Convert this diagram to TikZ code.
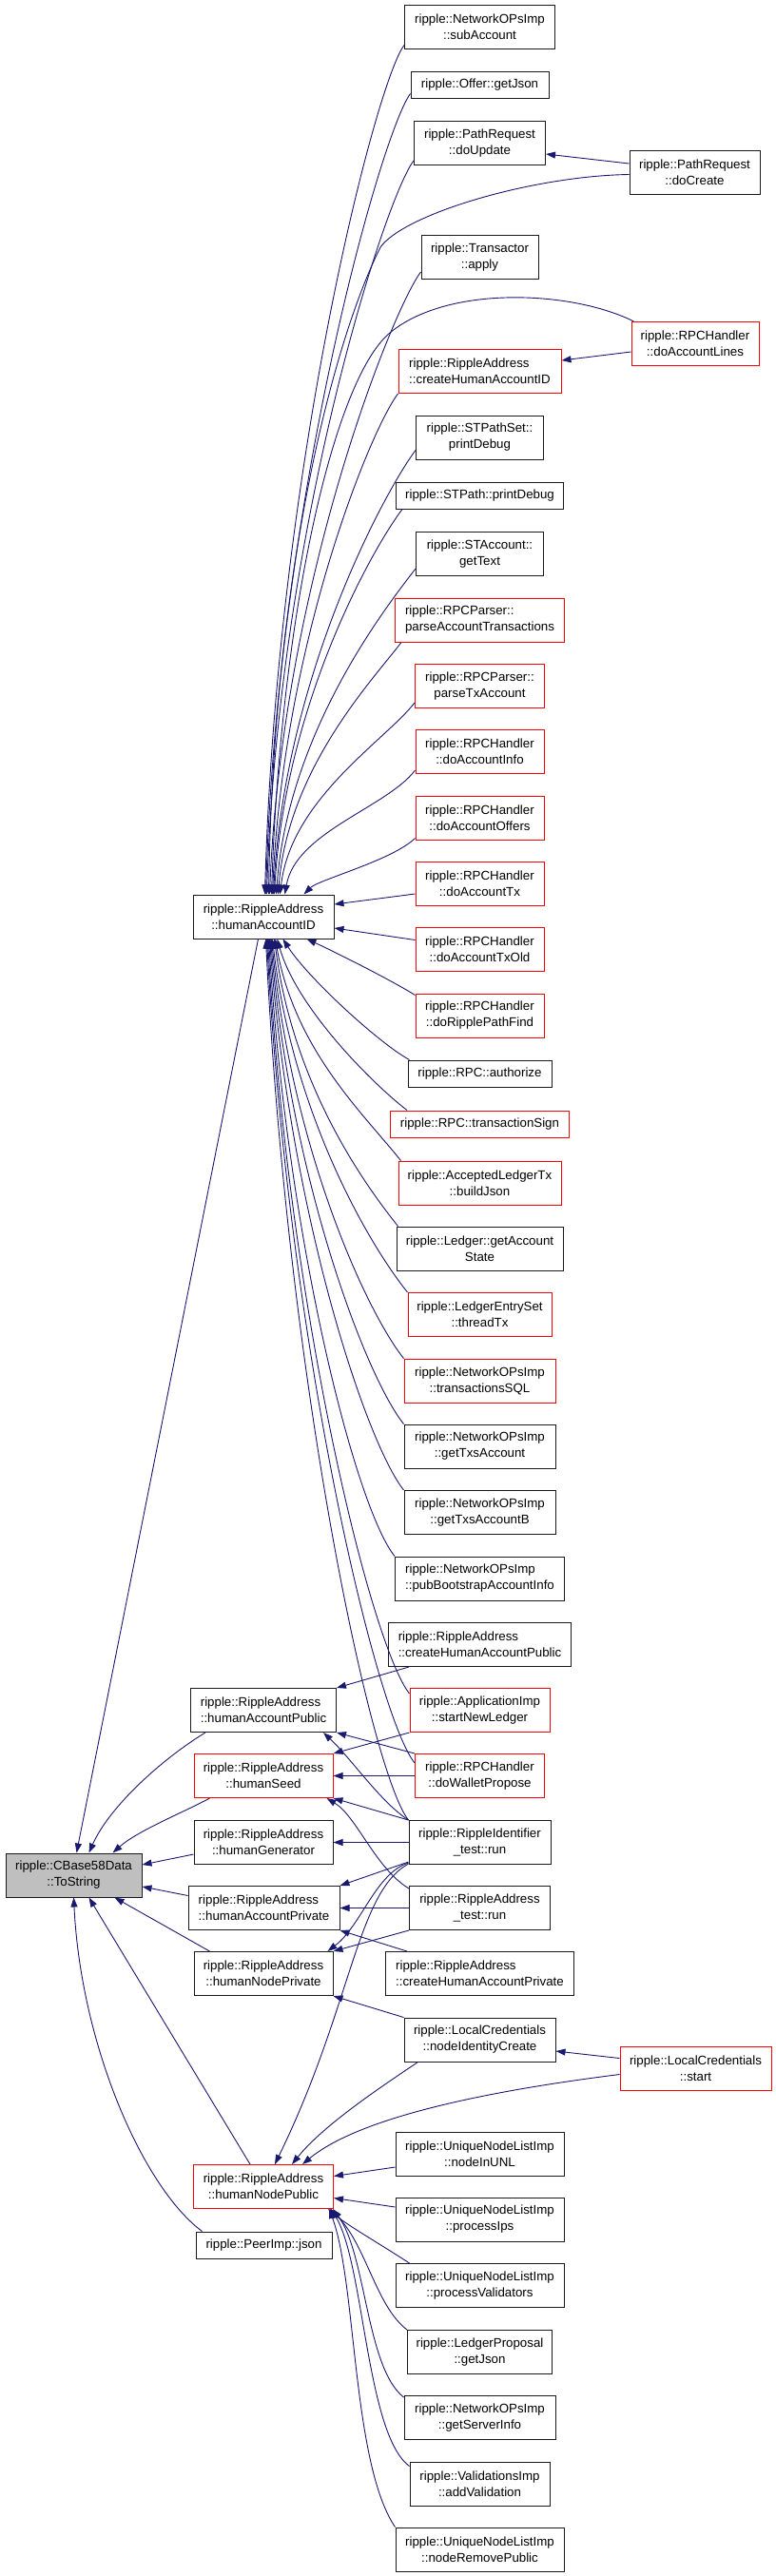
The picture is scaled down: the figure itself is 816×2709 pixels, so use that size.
\documentclass[tikz,border=0pt]{standalone}
\usepackage{fontspec}
\setmainfont{Liberation Sans}
\usetikzlibrary{arrows.meta}
\definecolor{edgeblue}{HTML}{191970}
\definecolor{nodered}{HTML}{FF0000}
\definecolor{focusgray}{HTML}{BFBFBF}
\definecolor{boxline}{HTML}{1A1A1A}
\tikzset{
  fn/.style={draw=boxline, line width=1pt, inner sep=0pt, minimum height=46pt, align=center, fill=white, font=\fontsize{13.3}{17}\selectfont},
  fn1/.style={fn, minimum height=28pt},
  hot/.style={draw=nodered},
  call/.style={draw=edgeblue, line width=0.9pt, arrows={Triangle[length=10pt,width=7pt]-}},
}
\begin{document}
\begin{tikzpicture}[x=1pt,y=-1pt]
\fill[white] (0,0) rectangle (816,2709);
\useasboundingbox (0,0) rectangle (816,2709);

% column 3 and 4
\node[fn,minimum width=158pt] (subAcc) at (504.5,28) {ripple::NetworkOPsImp\\::subAccount};
\node[fn1,minimum width=145pt] (offerJson) at (504.5,89) {ripple::Offer::getJson};
\node[fn,minimum width=138pt] (doUpdate) at (504.5,150.5) {ripple::PathRequest\\::doUpdate};
\node[fn,minimum width=137pt] (doCreate) at (730.5,181.5) {ripple::PathRequest\\::doCreate};
\node[fn,minimum width=123pt] (txApply) at (504.5,270.5) {ripple::Transactor\\::apply};
\node[fn,hot,minimum width=134pt] (doAcctLines) at (731,361.5) {ripple::RPCHandler\\::doAccountLines};
\node[fn,hot,align=left,minimum width=171pt] (createHAID) at (504.5,390.5) {ripple::RippleAddress\\::createHumanAccountID};
\node[fn,minimum width=134pt] (pathSetDbg) at (504.5,460) {ripple::STPathSet::\\printDebug};
\node[fn1,minimum width=176pt] (pathDbg) at (504.5,521) {ripple::STPath::printDebug};
\node[fn,minimum width=134pt] (acctText) at (504.5,582.5) {ripple::STAccount::\\getText};
\node[fn,hot,align=left,minimum width=178pt] (parseAT) at (504.5,652) {ripple::RPCParser::\\parseAccountTransactions};
\node[fn,hot,minimum width=136pt] (parseTxA) at (504.5,721.5) {ripple::RPCParser::\\parseTxAccount};
\node[fn,hot,minimum width=135pt] (doAInfo) at (504.5,790.5) {ripple::RPCHandler\\::doAccountInfo};
\node[fn,hot,minimum width=135pt] (doAOffers) at (504.5,860) {ripple::RPCHandler\\::doAccountOffers};
\node[fn,hot,minimum width=135pt] (doATx) at (504.5,929) {ripple::RPCHandler\\::doAccountTx};
\node[fn,hot,minimum width=135pt] (doATxOld) at (504.5,998.5) {ripple::RPCHandler\\::doAccountTxOld};
\node[fn,hot,minimum width=135pt] (doRPF) at (504.5,1068) {ripple::RPCHandler\\::doRipplePathFind};
\node[fn1,minimum width=151pt] (authorize) at (504.5,1129) {ripple::RPC::authorize};
\node[fn1,hot,minimum width=188pt] (txSign) at (504.5,1182) {ripple::RPC::transactionSign};
\node[fn,hot,minimum width=171pt] (buildJson) at (504.5,1244) {ripple::AcceptedLedgerTx\\::buildJson};
\node[fn,minimum width=175pt] (getAcctState) at (504.5,1313) {ripple::Ledger::getAccount\\State};
\node[fn,hot,minimum width=151pt] (threadTx) at (504.5,1382.5) {ripple::LedgerEntrySet\\::threadTx};
\node[fn,hot,minimum width=159pt] (txSQL) at (504.5,1452) {ripple::NetworkOPsImp\\::transactionsSQL};
\node[fn,minimum width=159pt] (getTxsA) at (504.5,1521) {ripple::NetworkOPsImp\\::getTxsAccount};
\node[fn,minimum width=159pt] (getTxsAB) at (504.5,1590.5) {ripple::NetworkOPsImp\\::getTxsAccountB};
\node[fn,align=left,minimum width=178pt] (pubBoot) at (504.5,1660) {ripple::NetworkOPsImp\\::pubBootstrapAccountInfo};
\node[fn,align=left,minimum width=192pt] (createHAPub) at (504.5,1729.5) {ripple::RippleAddress\\::createHumanAccountPublic};
\node[fn,hot,minimum width=147pt] (startNL) at (504.5,1798.5) {ripple::ApplicationImp\\::startNewLedger};
\node[fn,hot,minimum width=136pt] (doWP) at (504.5,1867.5) {ripple::RPCHandler\\::doWalletPropose};
\node[fn,minimum width=149pt] (riTest) at (504.5,1937.5) {ripple::RippleIdentifier\\\_test::run};
\node[fn,minimum width=148pt] (raTest) at (504.5,2006.5) {ripple::RippleAddress\\\_test::run};
\node[fn,align=left,minimum width=198pt] (createHAPriv) at (504.5,2075.5) {ripple::RippleAddress\\::createHumanAccountPrivate};
\node[fn,minimum width=159pt] (nodeIdC) at (504.5,2145) {ripple::LocalCredentials\\::nodeIdentityCreate};
\node[fn,hot,minimum width=159pt] (lcStart) at (731.5,2175.5) {ripple::LocalCredentials\\::start};
\node[fn,minimum width=177pt] (nodeInUNL) at (504.5,2265) {ripple::UniqueNodeListImp\\::nodeInUNL};
\node[fn,minimum width=177pt] (processIps) at (504.5,2334) {ripple::UniqueNodeListImp\\::processIps};
\node[fn,minimum width=177pt] (processVal) at (504.5,2403.5) {ripple::UniqueNodeListImp\\::processValidators};
\node[fn,minimum width=152pt] (lpJson) at (504.5,2473.5) {ripple::LedgerProposal\\::getJson};
\node[fn,minimum width=159pt] (serverInfo) at (504.5,2542.5) {ripple::NetworkOPsImp\\::getServerInfo};
\node[fn,minimum width=147pt] (addVal) at (504.5,2612) {ripple::ValidationsImp\\::addValidation};
\node[fn,minimum width=177pt] (nodeRemPub) at (504.5,2681) {ripple::UniqueNodeListImp\\::nodeRemovePublic};

% column 2
\node[fn,minimum width=148pt] (hAID) at (277,964) {ripple::RippleAddress\\::humanAccountID};
\node[fn,align=left,minimum width=153pt] (hAPub) at (277,1798.5) {ripple::RippleAddress\\::humanAccountPublic};
\node[fn,hot,minimum width=146pt] (hSeed) at (277,1867.5) {ripple::RippleAddress\\::humanSeed};
\node[fn,minimum width=146pt] (hGen) at (277,1937.5) {ripple::RippleAddress\\::humanGenerator};
\node[fn,align=left,minimum width=159pt] (hAPriv) at (277.5,2006.5) {ripple::RippleAddress\\::humanAccountPrivate};
\node[fn,minimum width=146pt] (hNPriv) at (277,2075.5) {ripple::RippleAddress\\::humanNodePrivate};
\node[fn,hot,minimum width=147pt] (hNPub) at (277,2299.5) {ripple::RippleAddress\\::humanNodePublic};
\node[fn1,minimum width=143pt] (peerJson) at (277.5,2361) {ripple::PeerImp::json};

% column 1
\node[fn,fill=focusgray,minimum width=143pt] (toString) at (77.5,1972) {ripple::CBase58Data\\::ToString};

% callers of humanAccountID (above)
\draw[call] ([xshift=76pt]hAID.north west) .. controls (291,494) and (395,87) .. ([yshift=4pt]subAcc.south west);
\draw[call] ([xshift=77pt]hAID.north west) .. controls (292,520) and (402,138) .. ([yshift=5pt]offerJson.south west);
\draw[call] ([xshift=78pt]hAID.north west) .. controls (293,555) and (405,208) .. ([yshift=5pt]doUpdate.south west);
\draw[call] ([xshift=80pt]hAID.north west) .. controls (288,600) and (350,360) .. (400,260) .. controls (425,225) and (560,185) .. ([yshift=-2pt]doCreate.west);
\draw[call] ([xshift=81pt]hAID.north west) .. controls (297,613) and (413,325) .. ([yshift=8pt]txApply.south west);
\draw[call] ([xshift=83pt]hAID.north west) .. controls (295,650) and (350,400) .. (410,350) .. controls (470,300) and (600,305) .. ([xshift=3pt]doAcctLines.north west);
\draw[call] ([xshift=84pt]hAID.north west) .. controls (298,677) and (389,453) .. (createHAID.south west);
\draw[call] ([xshift=85pt]hAID.north west) .. controls (300,707) and (407,513) .. ([yshift=10pt]pathSetDbg.south west);
\draw[call] ([xshift=86pt]hAID.north west) .. controls (300,738) and (393,575) .. ([xshift=7pt]pathDbg.south west);
\draw[call] ([xshift=88pt]hAID.north west) .. controls (303,769) and (407,637) .. ([yshift=8pt]acctText.south west);
\draw[call] ([xshift=90pt]hAID.north west) .. controls (303,808) and (392,715) .. ([xshift=7pt]parseAT.south west);
\draw[call] ([xshift=92pt]hAID.north west) .. controls (306,840) and (406,778) .. ([yshift=6pt]parseTxA.south west);
\draw[call] ([xshift=97pt]hAID.north west) .. controls (311,875) and (407,849) .. ([yshift=4pt]doAInfo.south west);
\draw[call] ([xshift=117pt]hAID.north west) .. controls (335,925) and (412,905) .. ([yshift=2pt]doAOffers.south west);
\draw[call] ([yshift=13pt]hAID.east) -- ([yshift=-11pt]doATx.west);
\draw[call] ([yshift=-12pt]hAID.east) -- ([yshift=10pt]doATxOld.west);
% callers of humanAccountID (below)
\draw[call] ([xshift=120pt]hAID.south west) .. controls (350,1000) and (410,1030) .. ([yshift=-2pt]doRPF.north west);
\draw[call] ([xshift=95pt]hAID.south west) .. controls (325,1030) and (400,1098) .. ([xshift=2pt]authorize.north west);
\draw[call] ([xshift=89pt]hAID.south west) .. controls (312,1060) and (392,1140) .. ([xshift=18pt]txSign.north west);
\draw[call] ([xshift=87pt]hAID.south west) .. controls (310,1104) and (382,1171) .. ([xshift=3pt]buildJson.north west);
\draw[call] ([xshift=86pt]hAID.south west) .. controls (308,1138) and (379,1240) .. ([xshift=2pt]getAcctState.north west);
\draw[call] ([xshift=84pt]hAID.south west) .. controls (308,1173) and (389,1310) .. (threadTx.north west);
\draw[call] ([xshift=83pt]hAID.south west) .. controls (307,1208) and (385,1379) .. (txSQL.north west);
\draw[call] ([xshift=82pt]hAID.south west) .. controls (306,1242) and (385,1448) .. (getTxsA.north west);
\draw[call] ([xshift=81pt]hAID.south west) .. controls (305,1277) and (385,1517) .. (getTxsAB.north west);
\draw[call] ([xshift=80pt]hAID.south west) .. controls (303,1312) and (375,1587) .. (pubBoot.north west);
\draw[call] ([xshift=79pt]hAID.south west) .. controls (304,1384) and (391,1731) .. ([yshift=-6pt]startNL.north west);
\draw[call] ([xshift=78pt]hAID.south west) .. controls (304,1421) and (396,1804) .. ([yshift=-10pt]doWP.north west);
\draw[call] ([xshift=77pt]hAID.south west) .. controls (302,1451) and (390,1864) .. (riTest.north west);

% side edges
\draw[call] ([yshift=-11.5pt]doUpdate.east) -- ([yshift=9.5pt]doCreate.west);
\draw[call] ([yshift=11.5pt]createHAID.east) -- ([yshift=-8.5pt]doAcctLines.west);

% callers of ToString
\draw[call] ([xshift=75pt]toString.north west) -- ([xshift=69pt]hAID.south west);
\draw[call] ([xshift=88pt]toString.north west) .. controls (115,1900) and (170,1850) .. ([xshift=16pt]hAPub.south west);
\draw[call] ([xshift=113pt]toString.north west) .. controls (145,1925) and (195,1905) .. ([xshift=17pt]hSeed.south west);
\draw[call] ([yshift=11pt]toString.east) -- ([yshift=-12.5pt]hGen.west);
\draw[call] ([yshift=-12pt]toString.east) -- ([yshift=13pt]hAPriv.west);
\draw[call] ([xshift=115pt]toString.south west) -- ([xshift=17pt]hNPriv.north west);
\draw[call] ([xshift=88pt]toString.south west) -- ([xshift=60pt]hNPub.north west);
\draw[call] ([xshift=72pt]toString.south west) .. controls (85,2150) and (150,2300) .. ([xshift=7pt]peerJson.north west);

% column 2 callers
\draw[call] (hAPub.north east) -- ([xshift=22pt]createHAPub.south west);
\draw[call] (hAPub.south east) -- (doWP.north west);
\draw[call] ([xshift=-14pt]hAPub.south east) .. controls (370,1850) and (400,1895) .. (riTest.north west);
\draw[call] (hSeed.north east) -- (startNL.south west);
\draw[call] (hSeed.east) -- (doWP.west);
\draw[call] (hSeed.south east) -- (riTest.north west);
\draw[call] ([xshift=-7pt]hSeed.south east) .. controls (375,1910) and (395,1965) .. ([yshift=-3pt]raTest.north west);
\draw[call] (hGen.east) -- (riTest.west);
\draw[call] (hAPriv.north east) -- ([yshift=3pt]riTest.south west);
\draw[call] (hAPriv.east) -- (raTest.west);
\draw[call] (hAPriv.south east) -- ([xshift=23pt]createHAPriv.north west);
\draw[call] ([xshift=-6pt]hNPriv.north east) .. controls (380,2025) and (395,1970) .. ([yshift=2pt]riTest.south west);
\draw[call] (hNPriv.north east) -- (raTest.south west);
\draw[call] (hNPriv.south east) -- (nodeIdC.north west);

% callers of humanNodePublic
\draw[call] ([xshift=86pt]hNPub.north west) .. controls (370,2110) and (375,1990) .. ([yshift=1pt]riTest.south west);
\draw[call] ([xshift=104pt]hNPub.north west) .. controls (340,2235) and (400,2195) .. ([xshift=15pt]nodeIdC.south west);
\draw[call] ([xshift=115pt]hNPub.north west) .. controls (380,2225) and (520,2198) .. ([yshift=-6pt]lcStart.west);
\draw[call] ([yshift=-12pt]nodeIdC.east) -- ([yshift=11pt]lcStart.west);
\draw[call] ([yshift=11pt]hNPub.east) -- ([yshift=-14pt]nodeInUNL.west);
\draw[call] ([yshift=-12pt]hNPub.east) -- ([yshift=13pt]processIps.west);
\draw[call] ([xshift=-6pt]hNPub.south east) .. controls (365,2340) and (400,2360) .. ([xshift=15pt]processVal.north west);
\draw[call] ([xshift=-4pt]hNPub.south east) .. controls (385,2360) and (395,2425) .. (lpJson.north west);
\draw[call] ([xshift=-1pt]hNPub.south east) .. controls (385,2370) and (385,2490) .. ([yshift=-2pt]serverInfo.north west);
\draw[call] ([xshift=-3pt]hNPub.south east) .. controls (383,2380) and (385,2560) .. ([yshift=-5pt]addVal.north west);
\draw[call] ([xshift=-5pt]hNPub.south east) .. controls (375,2400) and (370,2590) .. (nodeRemPub.north west);
\end{tikzpicture}
\end{document}
